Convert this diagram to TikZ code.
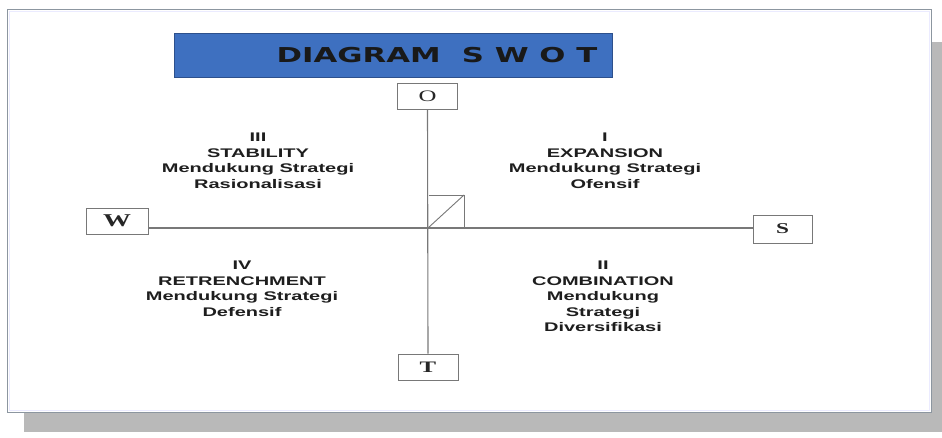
\documentclass[tikz,border=0pt]{standalone}
\usepackage{fontspec}
\setmainfont{Liberation Sans}
\newfontfamily\qfont[FakeStretch=1.6]{Liberation Sans}
\newfontfamily\tfont[FakeStretch=1.5]{DejaVu Sans}
\newfontfamily\lfont[FakeStretch=1.55]{Liberation Serif}
\definecolor{framegray}{RGB}{140,150,160}
\definecolor{shadowgray}{RGB}{185,185,185}
\definecolor{titleblue}{RGB}{62,112,192}
\definecolor{titleedge}{RGB}{45,80,140}
\definecolor{axisgray}{RGB}{120,120,120}
\definecolor{qtext}{RGB}{30,30,30}
\begin{document}
\begin{tikzpicture}[x=1pt,y=-1pt,
  letterbox/.style={draw=axisgray, fill=white, line width=0.9pt, inner sep=0pt,
    minimum width=60pt, minimum height=26pt, font=\lfont\fontsize{16}{18}\selectfont, text=black!85},
  quad/.style={align=center, inner sep=0pt, text=qtext,
    font=\qfont\bfseries\fontsize{12.5}{15.5}\selectfont},
  axis/.style={draw=axisgray, line width=1.1pt}]
\useasboundingbox (0,0) rectangle (942,438);
% frame with shadow
\fill[shadowgray] (24,42) rectangle (942,432);
\draw[framegray, fill=white, line width=1pt] (7,10) rectangle (931,412);
\draw[blue!8, line width=1pt] (9,12) rectangle (929,410);
% title
\node[draw=titleedge, fill=titleblue, line width=0.8pt, minimum width=438pt, minimum height=44pt,
  inner sep=0pt] (title) at (393,55) {};
\node[font=\tfont\bfseries\fontsize{20.5}{24}\selectfont, text=black!90, inner sep=0pt]
  (titletext) at (437,55) {DIAGRAM\hspace{10.5pt} S W O T};
% axis boxes
\node[letterbox] (O) at (427.5,96) {O};
\node[letterbox] (T) at (428,367) {\bfseries T};
\node[letterbox, minimum width=62pt, font=\lfont\bfseries\fontsize{18}{20}\selectfont] (W) at (117,221) {W};
\node[letterbox, minimum width=59pt, minimum height=28pt, font=\lfont\bfseries\fontsize{15}{17}\selectfont] (S) at (782.5,229) {S};
\coordinate (C) at (428,228);
\coordinate (Ctr) at (464,195);
% axes
\draw[axis] (O.south) -- (T.north);
\draw[axis] (W.east |- C) -- (S.west |- C);
% small box with diagonal
\draw[draw=axisgray, line width=0.9pt] (C -| O.south) ++(1,-33) -- (Ctr) -- (Ctr |- C);
\draw[draw=axisgray, line width=0.9pt] (C) -- (Ctr);
% quadrant texts
\node[quad, anchor=north] (q3) at (258,133) {III\\STABILITY\\Mendukung Strategi\\Rasionalisasi};
\node[quad, anchor=north] (q1) at (605,133) {I\\EXPANSION\\Mendukung Strategi\\Ofensif};
\node[quad, anchor=north] (q4) at (242,261) {IV\\RETRENCHMENT\\Mendukung Strategi\\Defensif};
\node[quad, anchor=north] (q2) at (603,261) {II\\COMBINATION\\Mendukung\\Strategi\\Diversifikasi};
\end{tikzpicture}
\end{document}
